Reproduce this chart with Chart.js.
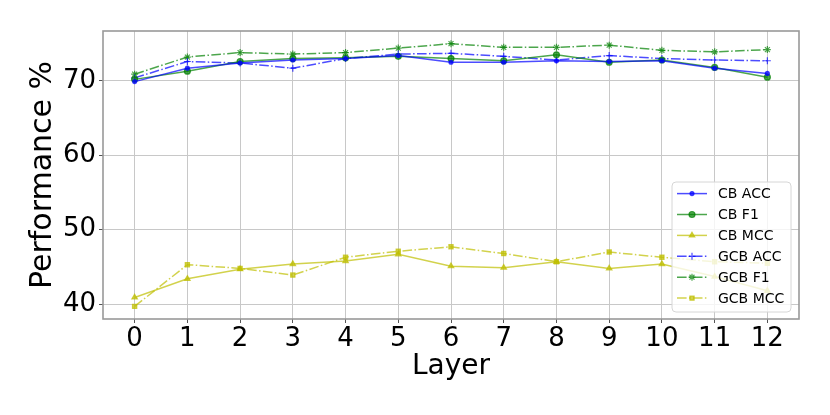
<!DOCTYPE html>
<html>
<head>
<meta charset="utf-8">
<script src="https://cdn.jsdelivr.net/npm/chart.js@4/dist/chart.umd.min.js"></script>
<style>
html, body { margin: 0; padding: 0; background: #fff; }
#wrap { width: 830px; height: 415px; }
</style>
</head>
<body>
<div id="wrap"><canvas id="layerChart" width="830" height="415"></canvas></div>
<script>
// values
const layers = [0, 1, 2, 3, 4, 5, 6, 7, 8, 9, 10, 11, 12];
const cbAcc  = [69.9, 71.7, 72.4, 72.8, 73.0, 73.4, 72.5, 72.5, 72.7, 72.6, 72.7, 71.7, 71.0];
const cbF1   = [70.2, 71.3, 72.6, 73.0, 73.1, 73.3, 73.0, 72.7, 73.5, 72.5, 72.8, 71.8, 70.5];
const cbMcc  = [40.9, 43.4, 44.7, 45.4, 45.8, 46.7, 45.1, 44.9, 45.7, 44.8, 45.4, 43.7, 41.8];
const gcbAcc = [70.4, 72.6, 72.4, 71.7, 73.0, 73.6, 73.7, 73.3, 72.8, 73.4, 73.0, 72.8, 72.7];
const gcbF1  = [70.9, 73.2, 73.8, 73.6, 73.8, 74.4, 75.0, 74.5, 74.5, 74.8, 74.1, 73.9, 74.2];
const gcbMcc = [39.7, 45.3, 44.8, 43.9, 46.3, 47.1, 47.7, 46.8, 45.7, 47.0, 46.3, 45.7, 45.5];
const yTicks = [40, 50, 60, 70];

const BLUE = 'rgba(0,0,255,0.7)';
const GREEN = 'rgba(0,128,0,0.7)';
const YELLOW = 'rgba(191,191,0,0.7)';
const DASHDOT = [9.6, 2.4, 1.5, 2.4];
const FONT = "'DejaVu Sans', sans-serif";

function pts(vals) {
    return layers.map(function (l, i) { return { x: l, y: vals[i] }; });
}

function series(label, vals, color, dash, style, radius) {
    return {
        label: label,
        data: pts(vals),
        borderColor: color,
        backgroundColor: color,
        borderWidth: 1.5,
        borderDash: dash,
        pointStyle: style,
        pointRadius: radius,
        pointBorderWidth: 1.2,
        pointBackgroundColor: color,
        pointBorderColor: color,
        tension: 0,
        fill: false
    };
}

const datasets = [
    series('CB ACC', cbAcc, BLUE, [], 'circle', 2),
    series('CB F1', cbF1, GREEN, [], 'circle', 3),
    series('CB MCC', cbMcc, YELLOW, [], 'triangle', 3.2),
    series('GCB ACC', gcbAcc, BLUE, DASHDOT, 'cross', 3.5),
    series('GCB F1', gcbF1, GREEN, DASHDOT, 'star', 3.5),
    series('GCB MCC', gcbMcc, YELLOW, DASHDOT, 'rect', 3)
];

// grey frame round the plot area
const frame = {
    id: 'frame',
    afterDatasetsDraw(chart) {
        const a = chart.chartArea, ctx = chart.ctx;
        ctx.save();
        ctx.strokeStyle = '#999';
        ctx.lineWidth = 1.6;
        ctx.strokeRect(a.left, a.top, a.right - a.left, a.bottom - a.top);
        ctx.restore();
    }
};

// matplotlib-like legend in the lower right corner
const boxLegend = {
    id: 'boxLegend',
    afterDraw(chart) {
        const a = chart.chartArea, ctx = chart.ctx;
        const w = 119, h = 130;
        const x0 = a.right - 8 - w, y0 = a.bottom - 7 - h;
        ctx.save();
        ctx.beginPath();
        ctx.roundRect(x0, y0, w, h, 4);
        ctx.fillStyle = 'rgba(255,255,255,0.8)';
        ctx.fill();
        ctx.strokeStyle = '#d6d6d6';
        ctx.lineWidth = 1;
        ctx.stroke();
        ctx.font = '14px ' + FONT;
        ctx.textBaseline = 'middle';
        chart.data.datasets.forEach(function (ds, i) {
            const y = y0 + 11.6 + i * 20.9;
            const lx = x0 + 5;
            ctx.strokeStyle = ds.borderColor;
            ctx.lineWidth = 1.5;
            ctx.setLineDash(ds.borderDash);
            ctx.beginPath();
            ctx.moveTo(lx, y);
            ctx.lineTo(lx + 30, y);
            ctx.stroke();
            ctx.setLineDash([]);
            ctx.fillStyle = ds.borderColor;
            ctx.lineWidth = 1.2;
            Chart.helpers.drawPoint(ctx, {
                pointStyle: ds.pointStyle, radius: ds.pointRadius, rotation: 0, borderWidth: 1.2
            }, lx + 15, y);
            ctx.fillStyle = '#000';
            ctx.fillText(ds.label, x0 + 46, y + 1);
        });
        ctx.restore();
    }
};

new Chart(document.getElementById('layerChart'), {
    type: 'line',
    data: { datasets: datasets },
    options: {
        responsive: false,
        animation: false,
        devicePixelRatio: 1,
        layout: { padding: { top: 31, right: 31, left: 0, bottom: 0 } },
        plugins: {
            legend: { display: false },
            tooltip: { enabled: false }
        },
        scales: {
            x: {
                type: 'linear',
                min: -0.6,
                max: 12.6,
                afterBuildTicks: function (scale) {
                    scale.ticks = layers.map(function (v) { return { value: v }; });
                },
                afterFit: function (scale) { scale.height = 96; },
                ticks: {
                    font: { family: FONT, size: 26 },
                    color: '#000',
                    padding: 1,
                    maxRotation: 0,
                    autoSkip: false
                },
                grid: { color: '#c8c8c8', lineWidth: 1, tickLength: 4, tickColor: '#555' },
                border: { display: false },
                title: {
                    display: true,
                    text: 'Layer',
                    color: '#000',
                    font: { family: FONT, size: 28 },
                    padding: { top: 0, bottom: 31 }
                }
            },
            y: {
                min: 38.0,
                max: 76.7,
                afterBuildTicks: function (scale) {
                    scale.ticks = yTicks.map(function (v) { return { value: v }; });
                },
                afterFit: function (scale) { scale.width = 103; },
                ticks: {
                    font: { family: FONT, size: 26 },
                    color: '#000',
                    padding: 3
                },
                grid: { color: '#c8c8c8', lineWidth: 1, tickLength: 4, tickColor: '#555' },
                border: { display: false },
                title: {
                    display: true,
                    text: 'Performance %',
                    color: '#000',
                    font: { family: FONT, size: 30 },
                    padding: { top: 25, bottom: 0 }
                }
            }
        }
    },
    plugins: [frame, boxLegend]
});
</script>
</body>
</html>
